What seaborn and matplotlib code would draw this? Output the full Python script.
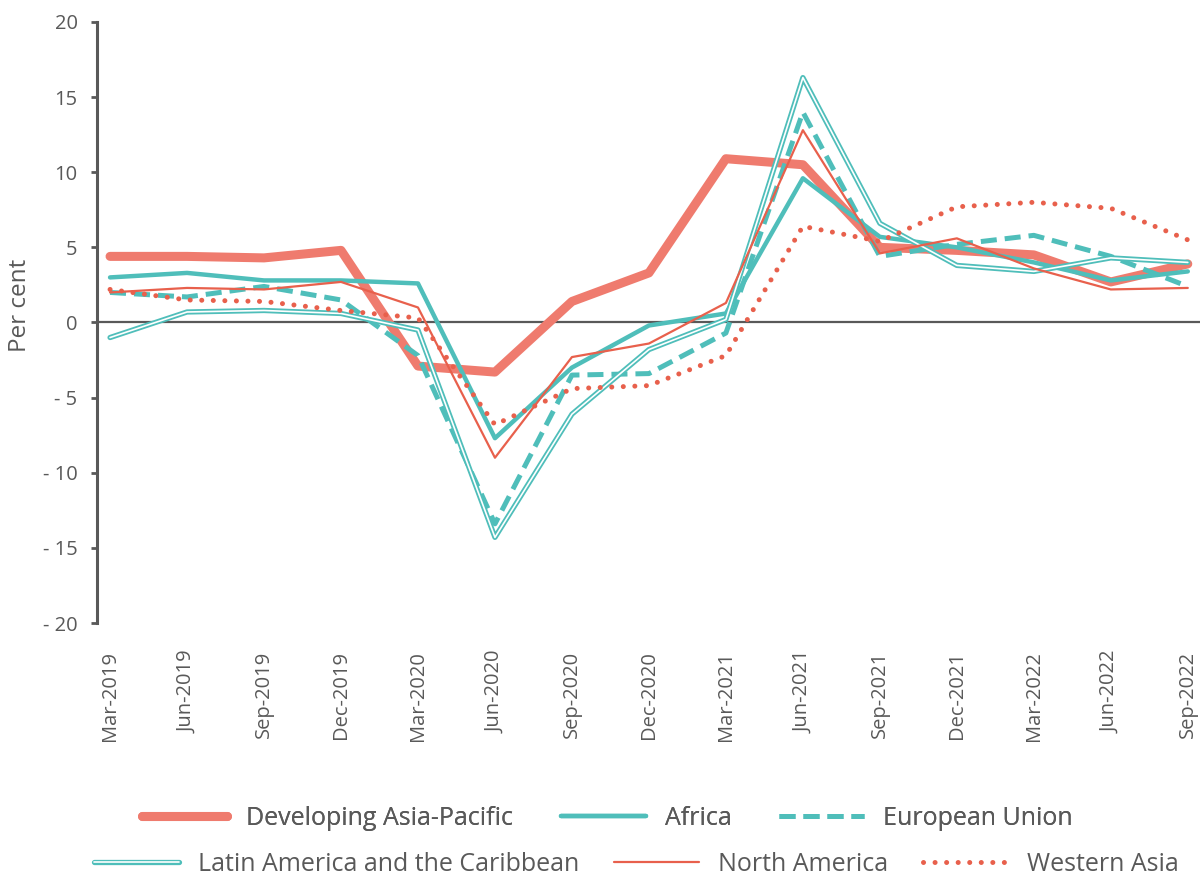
import pandas as pd
import matplotlib
matplotlib.use("Agg")
import matplotlib.pyplot as plt
import matplotlib.patheffects as pe
import seaborn as sns

# -----------------------------
# Data (per cent)
# -----------------------------
quarters = ["Mar-2019", "Jun-2019", "Sep-2019", "Dec-2019", "Mar-2020", "Jun-2020",
            "Sep-2020", "Dec-2020", "Mar-2021", "Jun-2021", "Sep-2021", "Dec-2021",
            "Mar-2022", "Jun-2022", "Sep-2022"]

asia_pacific = [4.4, 4.4, 4.3, 4.8, -2.9, -3.3, 1.4, 3.3, 10.9, 10.5, 5.0, 4.8, 4.5, 2.7, 3.9]
africa = [3.0, 3.3, 2.8, 2.8, 2.6, -7.7, -3.0, -0.2, 0.6, 9.6, 5.7, 5.0, 4.0, 2.8, 3.4]
european_union = [2.0, 1.7, 2.4, 1.5, -2.2, -13.4, -3.5, -3.4, -0.7, 14.0, 4.4, 5.2, 5.8, 4.4, 2.4]
latin_america = [-1.0, 0.7, 0.8, 0.6, -0.5, -14.3, -6.1, -1.8, 0.2, 16.3, 6.6, 3.8, 3.4, 4.3, 4.0]
north_america = [2.0, 2.3, 2.2, 2.7, 1.0, -9.0, -2.3, -1.4, 1.3, 12.8, 4.6, 5.6, 3.6, 2.2, 2.3]
western_asia = [2.2, 1.5, 1.4, 0.8, 0.3, -6.8, -4.4, -4.2, -2.2, 6.4, 5.4, 7.7, 8.0, 7.6, 5.5]

y_ticks = [20, 15, 10, 5, 0, -5, -10, -15, -20]
y_tick_labels = ["20", "15", "10", "5", "0", "- 5", "- 10", "- 15", "- 20"]

df = pd.DataFrame({
    "Quarter": quarters,
    "Developing Asia-Pacific": asia_pacific,
    "Africa": africa,
    "European Union": european_union,
    "Latin America and the Caribbean": latin_america,
    "North America": north_america,
    "Western Asia": western_asia,
})
df["pos"] = range(len(df))

# -----------------------------
# Styling
# -----------------------------
sns.set_style("white")
plt.rcParams["font.family"] = ["Open Sans", "DejaVu Sans"]
grey = "#595959"
salmon = "#EF7B6E"
teal = "#4FBEBA"
red = "#E8604C"

fig = plt.figure(figsize=(12.03, 8.76), dpi=100)
ax = fig.add_axes([0.0806, 0.2888, 0.917, 0.6861])

styles = {
    "Developing Asia-Pacific": dict(color=salmon, linewidth=6.5, solid_capstyle="round"),
    "Africa": dict(color=teal, linewidth=3.2),
    "European Union": dict(color=teal, linewidth=3.6, linestyle=(0, (3.2, 1.6))),
    "Latin America and the Caribbean": dict(color="white", linewidth=1.2,
                                            path_effects=[pe.Stroke(linewidth=3.8, foreground=teal), pe.Normal()]),
    "North America": dict(color=red, linewidth=1.6),
    "Western Asia": dict(color=red, linewidth=3.6, linestyle=(0, (0.01, 2.3)), dash_capstyle="round"),
}

handles = []
for name, st in styles.items():
    sns.lineplot(data=df, x="pos", y=name, ax=ax, label=name, legend=False, **st)
    handles.append(ax.lines[-1])

ax.axhline(0, color=grey, linewidth=1.6, zorder=0)

# -----------------------------
# Axes
# -----------------------------
ax.set_xlim(-0.17, 14.16)
ax.set_ylim(-20, 20)
ax.set_xticks(df["pos"])
ax.set_xticklabels(quarters, rotation=90, fontsize=14.5, color=grey)
ax.set_yticks(y_ticks)
ax.set_yticklabels(y_tick_labels, fontsize=14.5, color=grey)
ax.tick_params(axis="x", length=0, pad=20)
ax.tick_params(axis="y", length=4, width=2, color=grey, pad=10, left=True)
ax.set_xlabel("")
ax.set_ylabel("Per cent", fontsize=17.5, color=grey)
ax.yaxis.set_label_coords(-0.059, 0.529)

for side in ["top", "right", "bottom"]:
    ax.spines[side].set_visible(False)
ax.spines["left"].set_color(grey)
ax.spines["left"].set_linewidth(2.2)

# -----------------------------
# Legend in two rows
# -----------------------------
leg1 = fig.legend(handles[:3], [h.get_label() for h in handles[:3]], loc="center",
                  bbox_to_anchor=(0.505, 0.066), ncol=3, frameon=False, fontsize=18,
                  handlelength=3.4, columnspacing=1.9, labelcolor=grey, handletextpad=0.76)
leg2 = fig.legend(handles[3:], [h.get_label() for h in handles[3:]], loc="center",
                  bbox_to_anchor=(0.529, 0.013), ncol=3, frameon=False, fontsize=18,
                  handlelength=3.4, columnspacing=1.4, labelcolor=grey, handletextpad=0.76)
fig.add_artist(leg1)

fig.savefig("out.png", dpi=100)
